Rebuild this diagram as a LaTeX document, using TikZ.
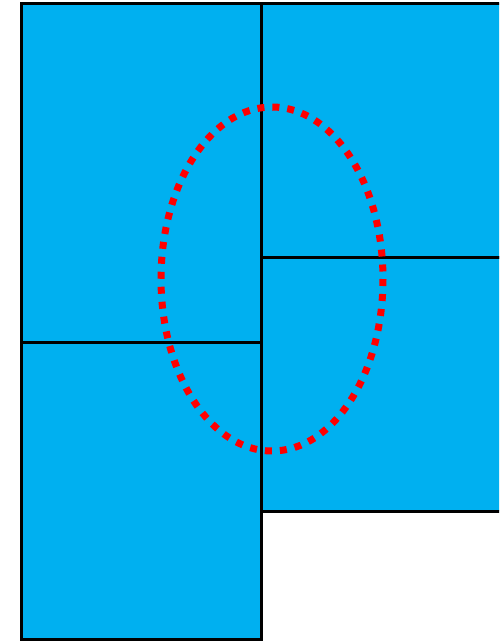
\documentclass[tikz,border=0pt]{standalone}
\usepackage{tikz}
\usetikzlibrary{positioning, calc}
\definecolor{cB}{RGB}{0,176,240}

\tikzset{
    panel/.style={fill=cB, draw=black, line width=3pt},
    ring/.style={draw=red, line width=7pt, dash pattern=on 7pt off 8pt}
}

\begin{document}
\begin{tikzpicture}[x=1pt, y=-1pt]
    \useasboundingbox (0,0) rectangle (499,641);
    \clip (0,0) rectangle (499,641);

    % Left column
    \draw[panel] (21,3) rectangle (261,342);
    \draw[panel] (21,342) rectangle (261,639);

    % Right column (runs past the edge)
    \draw[panel] (261,3) rectangle (510,257);
    \draw[panel] (261,257) rectangle (510,511);

    % Dotted ring over the joint
    \draw[ring] (272,279) ellipse [x radius=111, y radius=172];
\end{tikzpicture}
\end{document}
